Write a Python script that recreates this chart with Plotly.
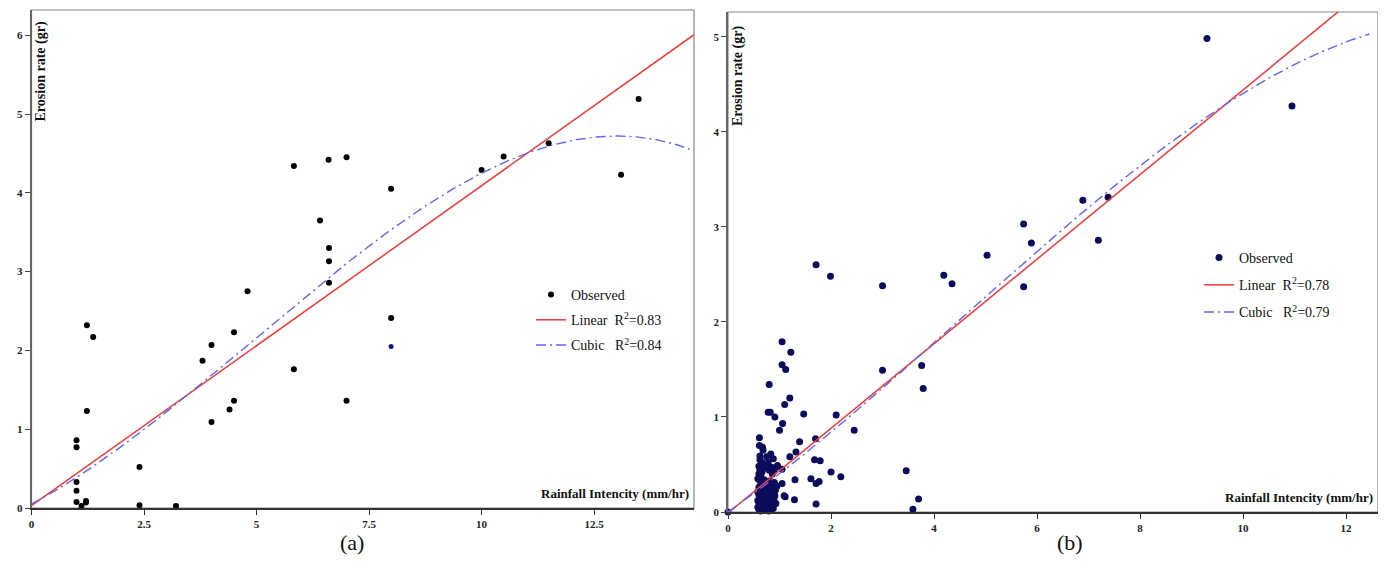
import numpy as np
import plotly.graph_objects as go

# ---------------- Panel (a) data ----------------
a_x = [5.83, 6.60, 7.00, 6.41, 6.61, 6.61, 6.61, 4.80,
       1.23, 1.37, 1.23, 1.00, 1.00, 1.00, 1.00, 1.00, 1.11, 1.21, 1.21,
       2.40, 2.40, 3.21, 3.80, 4.00, 4.50, 4.50, 4.40, 4.00, 5.83, 7.00,
       7.99, 7.99, 10.00, 10.49, 11.49, 13.10, 13.49]
a_y = [4.34, 4.42, 4.45, 3.65, 3.30, 3.13, 2.86, 2.75,
       2.32, 2.17, 1.23, 0.86, 0.77, 0.33, 0.22, 0.076, 0.025, 0.09, 0.07,
       0.52, 0.034, 0.025, 1.87, 2.07, 2.23, 1.36, 1.25, 1.09, 1.76, 1.36,
       2.41, 4.05, 4.29, 4.46, 4.63, 4.23, 5.19]
a_blue_x = [7.99]
a_blue_y = [2.05]
a_lin = [0.03, 0.406]                       # intercept, slope
a_cub = [0.05, 0.3036, 0.03612, -0.002449]  # b0..b3
a_xmax, a_ymax = 14.72, 6.32
a_xticks = [0, 2.5, 5, 7.5, 10, 12.5]
a_xticklabels = ["0", "2.5", "5", "7.5", "10", "12.5"]
a_yticks = [0, 1, 2, 3, 4, 5, 6]

# ---------------- Panel (b) data ----------------
b_x = [0.0, 1.71, 1.99, 3.00, 4.19, 4.35, 5.03, 5.74, 5.89, 5.74, 6.89, 7.38, 7.19, 9.30, 10.95,
       3.00, 3.76, 3.79, 3.46, 3.70, 3.59, 2.45, 2.10, 2.19, 2.00, 1.47, 1.70, 1.68, 1.79,
       1.61, 1.71, 1.77, 1.71, 1.39, 1.32, 1.30, 1.29, 1.20, 1.11, 1.05, 1.22, 1.05, 1.12,
       1.20, 1.10, 0.80, 0.78, 0.82, 0.91, 1.06, 1.00, 1.05, 1.05,
       0.61, 0.61, 0.67, 0.68, 0.62, 0.75, 0.83, 0.88, 0.93, 0.96, 0.89, 0.83, 1.09,
       0.60, 0.62, 0.60, 0.64, 0.66, 0.70, 0.74, 0.78, 0.80, 0.84, 0.86, 0.62, 0.66, 0.70,
       0.74, 0.78, 0.82, 0.86, 0.90, 0.60, 0.64, 0.68, 0.72, 0.76, 0.80, 0.84, 0.88, 0.92,
       0.60, 0.63, 0.67, 0.71, 0.75, 0.79, 0.83, 0.87, 0.91, 0.60, 0.64, 0.68, 0.72, 0.76,
       0.80, 0.85, 0.60, 0.63, 0.67, 0.71, 0.75, 0.79, 0.84, 0.88, 0.62, 0.66, 0.70, 0.58,
       0.58, 0.58, 0.58, 0.93, 0.95, 0.90]
b_y = [0.0, 2.60, 2.48, 2.38, 2.49, 2.40, 2.70, 3.03, 2.83, 2.37, 3.28, 3.31, 2.86, 4.98, 4.27,
       1.49, 1.54, 1.30, 0.435, 0.137, 0.03, 0.86, 1.02, 0.37, 0.42, 1.03, 0.77, 0.55, 0.54,
       0.35, 0.30, 0.32, 0.084, 0.74, 0.63, 0.34, 0.13, 0.58, 0.16, 1.79, 1.68, 1.55, 1.50,
       1.20, 1.13, 1.34, 1.05, 1.05, 1.00, 0.93, 0.86, 0.45, 0.30,
       0.78, 0.70, 0.68, 0.65, 0.59, 0.58, 0.61, 0.56, 0.47, 0.49, 0.13, 0.04, 0.17,
       0.48, 0.44, 0.40, 0.38, 0.42, 0.46, 0.50, 0.52, 0.44, 0.47, 0.40, 0.33, 0.30, 0.34,
       0.32, 0.30, 0.33, 0.29, 0.31, 0.26, 0.24, 0.27, 0.22, 0.25, 0.21, 0.24, 0.20, 0.23,
       0.18, 0.15, 0.19, 0.14, 0.17, 0.13, 0.16, 0.12, 0.17, 0.10, 0.08, 0.11, 0.06, 0.09,
       0.05, 0.08, 0.03, 0.01, 0.04, 0.02, 0.03, 0.01, 0.02, 0.04, 0.55, 0.52, 0.20, 0.21,
       0.12, 0.35, 0.05, 0.09, 0.27, 0.45]
b_lin = [-0.01, 0.445]
b_cub = [0.0, 0.3809, 0.02274, -0.001678]
b_xmax, b_ymax = 12.62, 5.26
b_xticks = [0, 2, 4, 6, 8, 10, 12]
b_yticks = [0, 1, 2, 3, 4, 5]

legend_a = ["Observed", "Linear  R<sup>2</sup>=0.83", "Cubic   R<sup>2</sup>=0.84"]
legend_b = ["Observed", "Linear  R<sup>2</sup>=0.78", "Cubic   R<sup>2</sup>=0.79"]

SERIF = "Liberation Serif"
RED = "#f23a3a"
BLUE = "#6464f0"
NAVY = "#0c0c5c"

# page body has an 8px margin: figure occupies screen pixels 8..1386, 8..581
OFF = 8
W, H = 1386 - OFF, 581 - OFF
def PX(px):
    return (px - OFF) / W
def PY(py):
    return 1 - (py - OFF) / H

def poly(c, x):
    return sum(ci * x ** i for i, ci in enumerate(c))

fig = go.Figure()

# Panel a traces
xa = np.linspace(0, a_xmax, 300)
fig.add_trace(go.Scatter(x=a_x, y=a_y, mode="markers", name=legend_a[0], legendgroup="a1",
                         marker=dict(color="black", size=6), cliponaxis=False,
                         xaxis="x", yaxis="y", legend="legend"))
fig.add_trace(go.Scatter(x=a_blue_x, y=a_blue_y, mode="markers", showlegend=False,
                         marker=dict(color="#1010a0", size=5), cliponaxis=False,
                         xaxis="x", yaxis="y"))
fig.add_trace(go.Scatter(x=xa, y=poly(a_lin, xa), mode="lines", name=legend_a[1], legendgroup="a2",
                         line=dict(color=RED, width=1.5), xaxis="x", yaxis="y", legend="legend"))
fig.add_trace(go.Scatter(x=xa, y=poly(a_cub, xa), mode="lines", name=legend_a[2], legendgroup="a3",
                         line=dict(color=BLUE, width=1.4, dash="10px,4px,2px,4px"),
                         xaxis="x", yaxis="y", legend="legend"))

# Panel b traces
xb = np.linspace(0, b_xmax, 300)
xb_c = np.linspace(0, 12.45, 300)
fig.add_trace(go.Scatter(x=b_x, y=b_y, mode="markers", name=legend_b[0], legendgroup="b1",
                         marker=dict(color=NAVY, size=7), cliponaxis=False,
                         xaxis="x2", yaxis="y2", legend="legend2"))
fig.add_trace(go.Scatter(x=xb, y=poly(b_lin, xb), mode="lines", name=legend_b[1], legendgroup="b2",
                         line=dict(color=RED, width=1.5), xaxis="x2", yaxis="y2", legend="legend2"))
fig.add_trace(go.Scatter(x=xb_c, y=poly(b_cub, xb_c), mode="lines", name=legend_b[2], legendgroup="b3",
                         line=dict(color=BLUE, width=1.4, dash="10px,4px,2px,4px"),
                         xaxis="x2", yaxis="y2", legend="legend2"))

tickfont = dict(family=SERIF, size=11, color="#222", weight="bold")
common_x = dict(showgrid=False, zeroline=False, showline=True, linecolor="#333", linewidth=2,
                ticks="outside", ticklen=5, tickwidth=1.2, tickcolor="#333", tickfont=tickfont,
                automargin=False)
common_y = dict(showgrid=False, zeroline=False, showline=True, linecolor="#666", linewidth=1.5,
                ticks="outside", ticklen=5, tickwidth=1.2, tickcolor="#444", tickfont=tickfont,
                automargin=False)

legfont = dict(family=SERIF, size=14, color="#111")
fig.update_layout(
    width=W, height=H, margin=dict(l=0, r=0, t=0, b=0),
    paper_bgcolor="white", plot_bgcolor="white",
    xaxis=dict(domain=[PX(31.5), PX(694)], range=[0, a_xmax], tickvals=a_xticks,
               ticktext=a_xticklabels, anchor="y", **common_x),
    yaxis=dict(domain=[PY(508), PY(10)], range=[0, a_ymax], tickvals=a_yticks,
               anchor="x", **common_y),
    xaxis2=dict(domain=[PX(728), PX(1378)], range=[0, b_xmax], tickvals=b_xticks,
                anchor="y2", **common_x),
    yaxis2=dict(domain=[PY(512), PY(12)], range=[0, b_ymax], tickvals=b_yticks,
                anchor="x2", **common_y),
    legend=dict(x=PX(531), y=PY(279), xanchor="left", yanchor="top",
                bgcolor="rgba(0,0,0,0)", font=legfont, itemwidth=30, tracegroupgap=4),
    legend2=dict(x=PX(1199), y=PY(242), xanchor="left", yanchor="top",
                 bgcolor="rgba(0,0,0,0)", font=legfont, itemwidth=30, tracegroupgap=6),
    showlegend=True,
)

# plot frames
for xr, yr in [("x domain", "y domain"), ("x2 domain", "y2 domain")]:
    fig.add_shape(type="rect", xref=xr, yref=yr, x0=0, x1=1, y0=0, y1=1,
                  line=dict(color="#888", width=1.2), layer="below")

titlefont = dict(family=SERIF, size=13, color="#111", weight="bold")
ytitlefont = dict(family=SERIF, size=14, color="#111", weight="bold")
# y-axis titles inside plots
fig.add_annotation(text="Erosion rate (gr)", xref="x domain", yref="y domain", x=0.0143, y=0.8765,
                   xanchor="center", yanchor="middle", textangle=-90, showarrow=False, font=ytitlefont)
fig.add_annotation(text="Erosion rate (gr)", xref="x2 domain", yref="y2 domain", x=0.0154, y=0.872,
                   xanchor="center", yanchor="middle", textangle=-90, showarrow=False, font=ytitlefont)
# x-axis titles inside plots
fig.add_annotation(text="Rainfall Intencity (mm/hr)", xref="x domain", yref="y domain", x=0.995,
                   y=0.01, xanchor="right", yanchor="bottom", showarrow=False, font=titlefont)
fig.add_annotation(text="Rainfall Intencity (mm/hr)", xref="x2 domain", yref="y2 domain", x=0.995,
                   y=0.01, xanchor="right", yanchor="bottom", showarrow=False, font=titlefont)

# panel labels
labfont = dict(family=SERIF, size=22, color="#111")
fig.add_annotation(text="(a)", xref="paper", yref="paper", x=PX(352), y=PY(542),
                   xanchor="center", yanchor="middle", showarrow=False, font=labfont)
fig.add_annotation(text="(b)", xref="paper", yref="paper", x=PX(1070), y=PY(542),
                   xanchor="center", yanchor="middle", showarrow=False, font=labfont)

fig.write_html("out.html")
